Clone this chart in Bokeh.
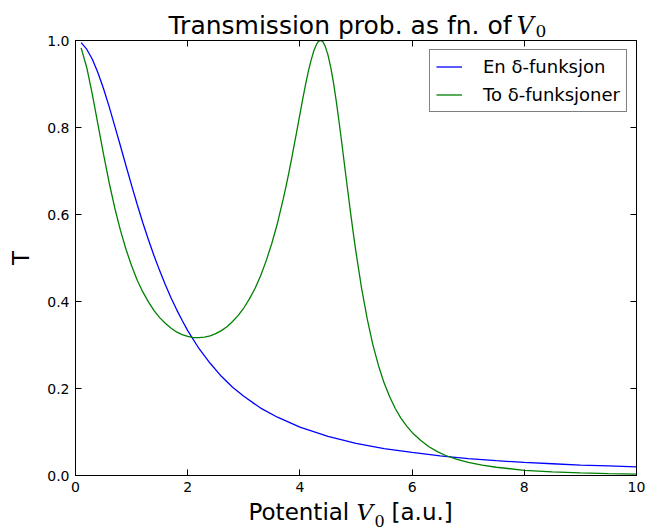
from bokeh.plotting import figure
from bokeh.layouts import column
from bokeh.models import (Range1d, FixedTicker, PrintfTickFormatter, LinearAxis,
                          CustomJSTickFormatter, Label)
from bokeh.embed import file_html
from bokeh.resources import INLINE

# ---- data ----
V_one = [0.1, 0.2, 0.3, 0.4, 0.5, 0.6, 0.7, 0.8, 0.9, 1.0,
         1.1, 1.2, 1.3, 1.4, 1.5, 1.6, 1.7, 1.8, 1.9, 2.0,
         2.2, 2.4, 2.6, 2.8, 3.0, 3.3, 3.6, 4.0, 4.5, 5.0,
         5.5, 6.0, 6.5, 7.0, 7.5, 8.0, 8.5, 9.0, 9.5, 10.0]
T_one = [0.995, 0.980, 0.957, 0.926, 0.889, 0.848, 0.803, 0.758, 0.712, 0.667,
         0.623, 0.581, 0.542, 0.505, 0.471, 0.439, 0.409, 0.382, 0.357, 0.333,
         0.292, 0.258, 0.228, 0.203, 0.182, 0.155, 0.134, 0.111, 0.090, 0.074,
         0.062, 0.053, 0.045, 0.039, 0.034, 0.030, 0.027, 0.024, 0.022, 0.020]

V_two = [0.1, 0.2, 0.3, 0.4, 0.5, 0.6, 0.7, 0.8, 0.9, 1.0,
         1.1, 1.2, 1.3, 1.4, 1.5, 1.6, 1.7, 1.8, 1.9, 2.0,
         2.1, 2.2, 2.3, 2.4, 2.5, 2.6, 2.7, 2.8, 2.9, 3.0,
         3.1, 3.2, 3.3, 3.4, 3.5, 3.6, 3.7, 3.75, 3.8, 3.85,
         3.9, 3.95, 4.0, 4.05, 4.1, 4.15, 4.2, 4.25, 4.3, 4.33,
         4.37, 4.41, 4.45, 4.5, 4.55, 4.6, 4.65, 4.7, 4.75, 4.8,
         4.85, 4.9, 4.95, 5.0, 5.1, 5.2, 5.3, 5.4, 5.5, 5.6,
         5.7, 5.8, 5.9, 6.0, 6.15, 6.3, 6.45, 6.6, 6.8, 7.0,
         7.25, 7.5, 8.0, 8.5, 9.0, 9.5, 10.0]
T_two = [0.983, 0.938, 0.876, 0.807, 0.738, 0.673, 0.615, 0.564, 0.520, 0.482,
         0.449, 0.422, 0.399, 0.379, 0.363, 0.350, 0.339, 0.330, 0.324, 0.320,
         0.317, 0.317, 0.318, 0.321, 0.326, 0.333, 0.342, 0.354, 0.368, 0.385,
         0.406, 0.430, 0.459, 0.494, 0.534, 0.580, 0.634, 0.663, 0.694, 0.727,
         0.761, 0.795, 0.830, 0.865, 0.898, 0.929, 0.955, 0.977, 0.992, 0.998,
         1.000, 0.997, 0.987, 0.967, 0.938, 0.902, 0.859, 0.811, 0.761, 0.709,
         0.658, 0.607, 0.559, 0.513, 0.430, 0.360, 0.301, 0.253, 0.213, 0.181,
         0.154, 0.132, 0.114, 0.099, 0.081, 0.066, 0.055, 0.046, 0.037, 0.030,
         0.024, 0.019, 0.012, 0.0085, 0.0060, 0.0044, 0.0033]

x_ticks = [0, 2, 4, 6, 8, 10]
y_ticks = [0.0, 0.2, 0.4, 0.6, 0.8, 1.0]
legend_labels = ["En δ-funksjon", "To δ-funksjoner"]
title_text = "Transmission prob. as fn. of"
xlabel_text = "Potential"
xlabel_unit = "[a.u.]"
sym_V = "V"
sym_sub = "0"
ylabel_text = "T"

W = 645
H_TOP, H_BOT = 40, 31
OVERLAP = 8          # main canvas starts this much above the frame top


def strip(h):
    f = figure(width=W, height=h, output_backend="svg", toolbar_location=None,
               title=None, x_range=Range1d(0, W), y_range=Range1d(h, 0),
               x_axis_type=None, y_axis_type=None, min_border=0,
               frame_align=False)
    f.outline_line_color = None
    f.background_fill_color = "white"
    f.border_fill_color = "white"
    f.grid.visible = False
    return f


def add_text(f, x, y, txt, font, size, style="normal"):
    f.add_layout(Label(x=x, y=y, text=txt, text_font=font, text_font_size=size,
                       text_font_style=style, text_color="black",
                       text_align="left", text_baseline="alphabetic"))


# ---- title strip ----
top = strip(H_TOP)
add_text(top, 168, 25, title_text, "DejaVu Sans", "25px")
add_text(top, 516, 25, sym_V, "DejaVu Serif", "24px", "italic")
add_text(top, 535, 30.5, sym_sub, "DejaVu Serif", "17px")

# ---- main plot (overlaps the title strip by OVERLAP px, transparent border) ----
use_overlap = True
main_h = 460 + OVERLAP
p = figure(width=W, height=main_h, output_backend="svg", toolbar_location=None,
           title=None, x_range=Range1d(0, 10), y_range=Range1d(0, 1),
           min_border_left=75, min_border_right=9,
           min_border_top=OVERLAP, min_border_bottom=25, frame_align=False)
try:
    p.margin = (-OVERLAP, 0, 0, 0)
except Exception:
    use_overlap = False
    p.height = 460
    p.min_border_top = 0

p.background_fill_color = "white"
p.border_fill_color = None if use_overlap else "white"
p.outline_line_color = "black"
p.outline_line_width = 1
p.xgrid.visible = False
p.ygrid.visible = False


def style_axis(ax, ticks):
    ax.ticker = FixedTicker(ticks=ticks)
    ax.major_tick_in = 6
    ax.major_tick_out = 0
    ax.minor_tick_line_color = None
    ax.axis_line_color = "black"
    ax.major_tick_line_color = "black"
    ax.major_label_text_font = "DejaVu Sans"
    ax.major_label_text_font_size = "14px"
    ax.major_label_text_color = "black"
    ax.major_label_standoff = 6


xa = p.below[0]
ya = p.left[0]
style_axis(xa, x_ticks)
style_axis(ya, y_ticks)
ya.formatter = PrintfTickFormatter(format="%.1f")
ya.axis_label = ylabel_text
ya.axis_label_text_font = "DejaVu Sans"
ya.axis_label_text_font_size = "23px"
ya.axis_label_text_font_style = "normal"
ya.axis_label_text_color = "black"
ya.axis_label_standoff = 10

for loc, ticks in (("above", x_ticks), ("right", y_ticks)):
    ax = LinearAxis(formatter=CustomJSTickFormatter(code="return ''"))
    style_axis(ax, ticks)
    ax.major_label_text_font_size = "0px"
    ax.major_label_standoff = 0
    p.add_layout(ax, loc)

p.line(V_one, T_one, line_color="#0000ff", line_width=1.3, legend_label=legend_labels[0])
p.line(V_two, T_two, line_color="#008000", line_width=1.3, legend_label=legend_labels[1])

lg = p.legend[0]
lg.location = "top_right"
lg.margin = 9
lg.padding = 6
lg.spacing = 7
lg.glyph_width = 26
lg.glyph_height = 21
lg.label_height = 21
lg.label_standoff = 21
lg.label_text_font = "DejaVu Sans"
lg.label_text_font_size = "18px"
lg.label_text_color = "black"
lg.border_line_color = "black"
lg.border_line_width = 1
lg.background_fill_color = "white"
lg.background_fill_alpha = 1

# ---- x-axis label strip ----
bot = strip(H_BOT)
add_text(bot, 248, 11.5, xlabel_text, "DejaVu Sans", "23px")
add_text(bot, 356, 11.5, sym_V, "DejaVu Serif", "23px", "italic")
add_text(bot, 374, 20, sym_sub, "DejaVu Serif", "16px")
add_text(bot, 391, 11.5, xlabel_unit, "DejaVu Sans", "23px")

layout = column(top, p, bot, spacing=0)
open("out.html", "w").write(file_html(layout, INLINE))
